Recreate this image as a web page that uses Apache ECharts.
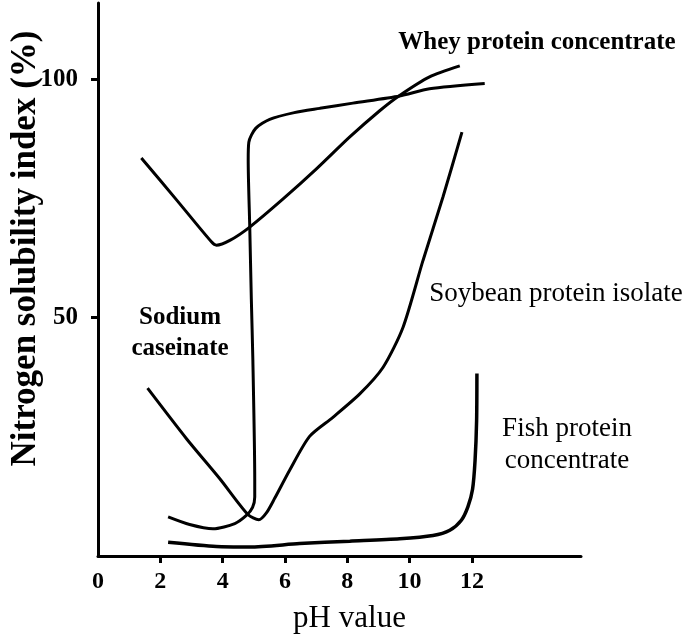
<!DOCTYPE html>
<html>
<head>
<meta charset="utf-8">
<script src="https://cdn.jsdelivr.net/npm/echarts@6/dist/echarts.min.js"></script>
<style>
  html, body { margin: 0; padding: 0; background: #fff; }
  #chart { width: 685px; height: 636px; }
</style>
</head>
<body>
<div id="chart"></div>
<script>
// axis ticks / labels
const xTickValues = [2, 4, 6, 8, 10, 12];
const xLabelValues = [0, 2, 4, 6, 8, 10, 12];
const yTickValues = [50, 100];

// curves: [pH, nitrogen solubility index %]
const wheyProtein = [
  [1.39, 83.5], [2.52, 74.7], [3.64, 65.9], [3.8, 65.2], [4.23, 66.2],
  [4.87, 69.0], [5.94, 74.9], [7.01, 81.2], [8.08, 87.9], [9.04, 93.4],
  [9.68, 96.6], [10.64, 100.5], [11.61, 102.8]
];
const sodiumCaseinate = [
  [2.25, 8.2], [2.94, 6.6], [3.69, 5.7], [4.39, 6.8], [4.76, 8.5],
  [4.96, 10.2], [5.03, 12.4], [5.03, 16], [4.97, 41], [4.92, 54],
  [4.87, 69], [4.82, 83], [4.84, 86.8], [5.06, 89.7], [5.51, 91.6],
  [6.3, 93.0], [7.12, 93.9], [8.18, 95.0], [9.68, 96.5], [10.64, 98.0],
  [12.41, 99.1]
];
const soybeanIsolate = [
  [1.59, 35.2], [2.84, 24.6], [3.91, 16.2], [4.81, 8.7], [5.16, 7.6],
  [5.41, 9.1], [5.67, 12.1], [6.15, 18.0], [6.79, 25.1], [7.54, 29.1],
  [8.4, 34.0], [9.15, 39.6], [9.79, 48.0], [10.43, 62.0], [11.07, 75.3],
  [11.68, 88.9]
];
const fishProtein = [
  [2.25, 2.9], [3.8, 2.0], [4.87, 1.9], [6.47, 2.6], [8.08, 3.1],
  [9.68, 3.6], [10.75, 4.3], [11.29, 5.4], [11.66, 7.5], [11.87, 10.3],
  [12.02, 14], [12.1, 20], [12.15, 28.4], [12.16, 38.3]
];

const serif = "'Liberation Serif', 'Times New Roman', serif";

const chart = echarts.init(document.getElementById("chart"));

const lineSeries = (name, data, width) => ({
  name: name,
  type: "line",
  data: data,
  smooth: 0.25,
  showSymbol: false,
  silent: true,
  lineStyle: { color: "#000", width: width || 3 },
});

const option = {
  animation: false,
  backgroundColor: "#fff",
  grid: {
    left: 98,
    right: 104,
    top: 3,
    bottom: 80,
    containLabel: false,
    outerBoundsMode: "none",
  },
  xAxis: {
    type: "value",
    min: 0,
    max: 15.5,
    name: "pH value",
    nameLocation: "middle",
    nameGap: 47,
    nameMoveOverlap: false,
    nameTextStyle: {
      fontFamily: serif,
      fontSize: 31,
      color: "#000",
      padding: [0, 0, 0, 20],
    },
    axisLine: { lineStyle: { color: "#000", width: 3 } },
    axisTick: {
      show: true,
      length: 7,
      customValues: xTickValues,
      lineStyle: { color: "#000", width: 3 },
    },
    axisLabel: {
      customValues: xLabelValues,
      margin: 14,
      fontFamily: serif,
      fontWeight: "bold",
      fontSize: 24,
      color: "#000",
    },
    splitLine: { show: false },
  },
  yAxis: {
    type: "value",
    min: 0,
    max: 116,
    name: "Nitrogen solubility index (%)",
    nameLocation: "middle",
    nameGap: 55,
    nameMoveOverlap: false,
    nameTextStyle: {
      fontFamily: serif,
      fontWeight: "bold",
      fontSize: 35,
      color: "#000",
      padding: [0, 0, 0, 62],
    },
    axisLine: { lineStyle: { color: "#000", width: 3 } },
    axisTick: {
      show: true,
      length: 7,
      customValues: yTickValues,
      lineStyle: { color: "#000", width: 3 },
    },
    axisLabel: {
      customValues: yTickValues,
      margin: 20,
      fontFamily: serif,
      fontWeight: "bold",
      fontSize: 25,
      color: "#000",
    },
    splitLine: { show: false },
  },
  series: [
    lineSeries("Whey protein concentrate", wheyProtein),
    lineSeries("Sodium caseinate", sodiumCaseinate),
    lineSeries("Soybean protein isolate", soybeanIsolate),
    lineSeries("Fish protein concentrate", fishProtein, 3.5),
  ],
  graphic: [
    {
      type: "text",
      x: 537, y: 43,
      style: {
        text: "Whey protein concentrate",
        font: "bold 25px " + serif,
        fill: "#000", align: "center", verticalAlign: "middle",
      },
    },
    {
      type: "text",
      x: 556, y: 294,
      style: {
        text: "Soybean protein isolate",
        font: "27px " + serif,
        fill: "#000", align: "center", verticalAlign: "middle",
      },
    },
    {
      type: "text",
      x: 567, y: 445,
      style: {
        text: "Fish protein\nconcentrate",
        font: "27px " + serif,
        lineHeight: 32,
        fill: "#000", align: "center", verticalAlign: "middle",
      },
    },
    {
      type: "text",
      x: 180, y: 333,
      style: {
        text: "Sodium\ncaseinate",
        font: "bold 25px " + serif,
        lineHeight: 31,
        fill: "#000", align: "center", verticalAlign: "middle",
      },
    },
  ],
};

chart.setOption(option);
</script>
</body>
</html>
